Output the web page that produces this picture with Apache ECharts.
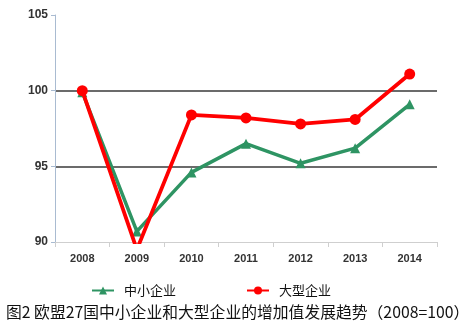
<!DOCTYPE html>
<html>
<head>
<meta charset="utf-8">
<script src="https://cdn.jsdelivr.net/npm/echarts@6/dist/echarts.min.js"></script>
<style>
  html, body { margin: 0; padding: 0; background: #fff; }
  #chart { width: 468px; height: 329px; }
</style>
</head>
<body>
<div id="chart"></div>
<script>
// Value-added index, 2008 = 100
const years = ['2008', '2009', '2010', '2011', '2012', '2013', '2014'];
const smeValues = [99.9, 90.7, 94.6, 96.5, 95.2, 96.2, 99.1];
const largeValues = [100.0, 89.5, 98.4, 98.2, 97.8, 98.1, 101.1];
const seriesNames = ['中小企业', '大型企业'];
const captionText = '图2 欧盟27国中小企业和大型企业的增加值发展趋势（2008=100）';

const Y_MIN = 90;
const Y_MAX = 105;

// points that fall below the axis floor are drawn without a marker
function toPoints(values) {
  return values.map(v => (v < Y_MIN ? { value: v, symbol: 'none' } : v));
}

const chart = echarts.init(document.getElementById('chart'), null, { renderer: 'canvas' });

const tickFont = { fontFamily: 'Liberation Sans, Arial, sans-serif', fontWeight: 'bold', color: '#333' };

chart.setOption({
  animation: false,
  backgroundColor: '#fff',
  grid: { left: 55, right: 31, top: 15, bottom: 87, containLabel: false },
  legend: {
    left: 86,
    top: 279,
    itemWidth: 22,
    itemHeight: 10,
    itemGap: 70,
    textStyle: { fontFamily: 'Noto Sans CJK SC', fontSize: 13, color: '#111', padding: [0, 0, 0, 5] },
    data: seriesNames
  },
  xAxis: {
    type: 'category',
    data: years,
    boundaryGap: true,
    axisLine: { lineStyle: { color: '#cfcfcf', width: 1 } },
    axisTick: { show: true, length: 5, lineStyle: { color: '#cfcfcf' } },
    axisLabel: Object.assign({ margin: 11, fontSize: 11 }, tickFont)
  },
  yAxis: {
    type: 'value',
    min: Y_MIN,
    max: Y_MAX,
    interval: 5,
    axisLine: { show: true, lineStyle: { color: '#a9bbd1', width: 1 } },
    axisTick: { show: true, length: 4, lineStyle: { color: '#a9bbd1' } },
    axisLabel: Object.assign({ margin: 7, fontSize: 12 }, tickFont),
    splitLine: {
      show: true,
      lineStyle: { color: ['rgba(0,0,0,0)', '#3a3a3a', '#3a3a3a', 'rgba(0,0,0,0)'], width: 1.5 }
    }
  },
  series: [
    {
      name: seriesNames[0],
      type: 'line',
      data: toPoints(smeValues),
      clip: true,
      symbol: 'triangle',
      symbolSize: 10,
      lineStyle: { color: '#2e9463', width: 3.5 },
      itemStyle: { color: '#2e9463' },
      z: 2
    },
    {
      name: seriesNames[1],
      type: 'line',
      data: toPoints(largeValues),
      clip: true,
      symbol: 'circle',
      symbolSize: 11,
      lineStyle: { color: '#ff0000', width: 3.8 },
      itemStyle: { color: '#ff0000' },
      z: 3
    }
  ],
  graphic: [
    {
      type: 'text',
      left: 6,
      top: 304,
      style: {
        text: captionText,
        fontFamily: 'Noto Sans CJK SC',
        fontSize: 15.8,
        fill: '#111'
      }
    }
  ]
});
</script>
</body>
</html>
